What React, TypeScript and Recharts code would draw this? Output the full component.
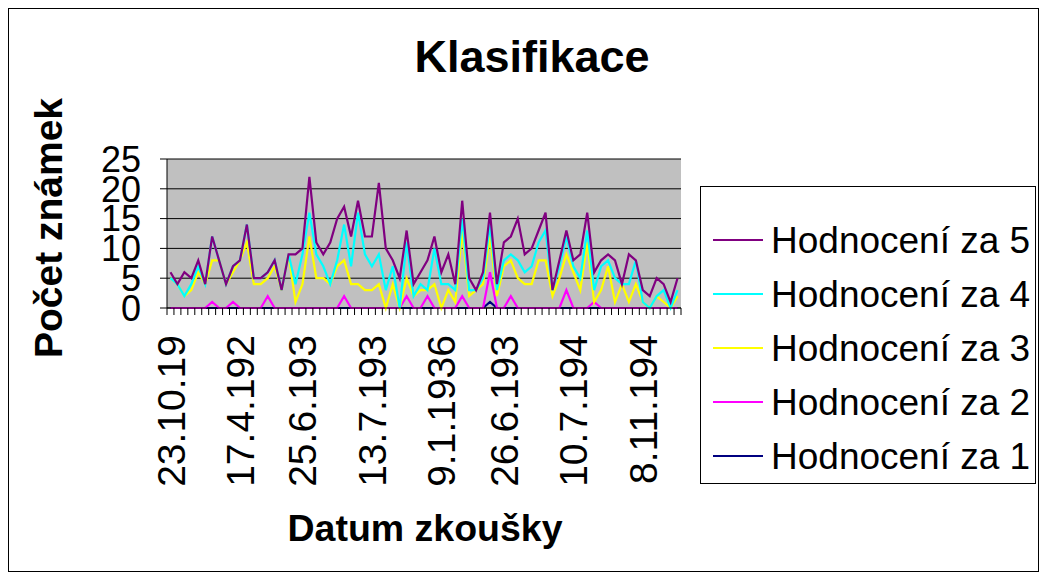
import React from 'react';
import { LineChart, Line, XAxis, YAxis, CartesianGrid, Legend } from 'recharts';

// ---- data (values as plotted) ----
const GRADE_5 = [6,4,6,5,8,4,12,8,4,7,8,14,5,5,6,8,3,9,9,10,22,11,9,11,15,17,12,18,12,12,21,10,8,5,13,4,6,8,12,6,9,4,18,5,3,6,16,4,11,12,15,9,10,13,16,3,8,13,8,9,16,6,8,9,8,4,9,8,3,2,5,4,1,5];
const GRADE_4 = [5,4,2,4,7,4,12,8,4,7,8,14,5,5,6,8,3,9,4,9,16,9,7,4,8,14,7,16,9,7,9,3,7,0,11,2,4,3,10,4,4,3,15,3,3,5,14,3,8,9,8,6,7,11,13,3,7,12,7,5,13,3,7,8,5,4,4,8,1,0,2,3,0,3];
const GRADE_3 = [5,4,2,3,6,4,8,8,4,6,8,11,4,4,5,7,3,9,1,4,12,5,5,4,7,8,4,4,3,3,4,0,4,0,5,2,3,3,4,0,3,1,13,2,3,4,12,2,7,8,5,4,4,8,8,2,5,9,6,3,11,1,3,7,1,4,1,4,1,0,2,1,0,2];
const GRADE_2 = [0,0,0,0,0,0,1,0,0,1,0,0,0,0,2,0,0,0,0,0,0,0,0,0,0,2,0,0,0,0,0,0,0,0,2,0,0,2,0,0,0,0,2,0,0,0,6,0,0,2,0,0,0,0,0,0,0,3,0,0,0,1,0,0,0,0,0,0,0,0,0,0,0,0];
const GRADE_1 = [0,0,0,0,0,0,0,0,0,0,0,0,0,0,0,0,0,0,0,0,0,0,0,0,0,0,0,0,0,0,0,0,0,0,0,0,0,0,0,0,0,0,0,0,0,0,1,0,0,0,0,0,0,0,0,0,0,0,0,0,0,0,0,0,0,0,0,0,0,0,0,0,0,0];

const TICK_INDEXES = [0, 10, 19, 29, 39, 48, 58, 68];
const TICK_LABELS = ['23.10.19', '17.4.192', '25.6.193', '13.7.193', '9.1.1936', '26.6.193', '10.7.194', '8.11.194'];
const Y_TICKS = [0, 5, 10, 15, 20, 25];

const SERIES = [
  { key: 'z1', name: 'Hodnocení za 1', color: '#000080', values: GRADE_1 },
  { key: 'z2', name: 'Hodnocení za 2', color: '#FF00FF', values: GRADE_2 },
  { key: 'z3', name: 'Hodnocení za 3', color: '#FFFF00', values: GRADE_3 },
  { key: 'z4', name: 'Hodnocení za 4', color: '#00FFFF', values: GRADE_4 },
  { key: 'z5', name: 'Hodnocení za 5', color: '#800080', values: GRADE_5 },
];

const rows = GRADE_5.map((_, i) => {
  const r: any = { i };
  SERIES.forEach((s) => { r[s.key] = s.values[i]; });
  return r;
});

// ---- layout ----
const W = 1046;
const H = 578;
const PLOT_LEFT = 167;
const PLOT_RIGHT = 681;
const PLOT_TOP = 159;
const PLOT_BOTTOM = 308;
const CAT_W = (PLOT_RIGHT - PLOT_LEFT) / GRADE_5.length;
const FONT = '"Liberation Sans", Arial, Helvetica, sans-serif';

const XTick = (props: any) => {
  const { x, y, payload, index } = props;
  const half = CAT_W / 2;
  const k = TICK_INDEXES.indexOf(payload.value);
  const last = index === GRADE_5.length - 1;
  return (
    <g>
      <line x1={x - half} y1={y} x2={x - half} y2={y + 7} stroke="#000" strokeWidth={1} />
      {last && <line x1={x + half} y1={y} x2={x + half} y2={y + 7} stroke="#000" strokeWidth={1} />}
      {k >= 0 && (
        <text
          x={x}
          y={y + 27}
          dy="0.36em"
          transform={`rotate(-90 ${x} ${y + 27})`}
          textAnchor="end"
          fontSize={39}
          fontFamily={FONT}
          fill="#000"
        >
          {TICK_LABELS[k]}
        </text>
      )}
    </g>
  );
};

const LegendBox = (props: any) => {
  const items = [...(props.payload || [])].reverse();
  return (
    <div
      style={{
        width: '100%',
        height: '100%',
        boxSizing: 'border-box',
        border: '1px solid #000',
        background: '#fff',
        paddingTop: 26,
      }}
    >
      {items.map((it: any) => (
        <div key={it.value} style={{ height: 54, display: 'flex', alignItems: 'center' }}>
          <svg width={70} height={10} style={{ flex: 'none' }}>
            <line x1={12} y1={5} x2={62} y2={5} stroke={it.color} strokeWidth={2} />
          </svg>
          <span style={{ fontFamily: FONT, fontSize: 37, color: '#000', whiteSpace: 'nowrap', lineHeight: 1 }}>
            {it.value}
          </span>
        </div>
      ))}
    </div>
  );
};

export default function App() {
  return (
    <div style={{ position: 'absolute', left: 0, top: 0, width: W, height: H, background: '#fff' }}>
      <div
        style={{
          position: 'absolute',
          left: 8,
          top: 8,
          width: 1031,
          height: 564,
          border: '1px solid #000',
          boxSizing: 'border-box',
        }}
      />
      <div style={{ position: 'absolute', left: 0, top: 0 }}>
        <LineChart
          width={W}
          height={H}
          data={rows}
          margin={{ top: PLOT_TOP, right: W - PLOT_RIGHT, bottom: H - PLOT_BOTTOM - 200, left: PLOT_LEFT - 100 }}
        >
          <CartesianGrid vertical={false} stroke="#000" strokeWidth={1} fill="#C0C0C0" fillOpacity={1} />
          <XAxis
            dataKey="i"
            type="category"
            height={200}
            interval={0}
            tickSize={0}
            tickMargin={0}
            tickLine={false}
            axisLine={{ stroke: '#000', strokeWidth: 1 }}
            padding={{ left: CAT_W / 2, right: CAT_W / 2 }}
            tick={<XTick />}
          />
          <XAxis
            xAxisId="top"
            orientation="top"
            dataKey="i"
            height={0}
            tick={false}
            tickLine={false}
            axisLine={{ stroke: '#808080', strokeWidth: 2 }}
          />
          <YAxis
            width={100}
            domain={[0, 25]}
            ticks={Y_TICKS}
            interval={0}
            tickSize={7}
            tickMargin={19}
            tickLine={{ stroke: '#000' }}
            axisLine={{ stroke: '#000', strokeWidth: 1 }}
            tick={{ fontSize: 36, fill: '#000', fontFamily: FONT }}
          />
          <YAxis
            yAxisId="right"
            orientation="right"
            width={0}
            domain={[0, 25]}
            tick={false}
            tickLine={false}
            axisLine={{ stroke: '#808080', strokeWidth: 2 }}
          />
          <Legend
            layout="vertical"
            align="center"
            verticalAlign="middle"
            content={<LegendBox />}
            wrapperStyle={{ position: 'absolute', left: 700, top: 186, width: 336, height: 298 }}
          />
          {SERIES.map((s) => (
            <Line
              key={s.key}
              dataKey={s.key}
              name={s.name}
              stroke={s.color}
              strokeWidth={2.2}
              dot={false}
              activeDot={false}
              type="linear"
              isAnimationActive={false}
            />
          ))}
        </LineChart>
      </div>
      <svg width={W} height={H} style={{ position: 'absolute', left: 0, top: 0, pointerEvents: 'none' }}>
        <text x={532} y={72} textAnchor="middle" fontFamily={FONT} fontWeight="bold" fontSize={45} fill="#000">
          Klasifikace
        </text>
        <text
          x={62}
          y={228}
          transform="rotate(-90 62 228)"
          textAnchor="middle"
          fontFamily={FONT}
          fontWeight="bold"
          fontSize={39}
          fill="#000"
        >
          Počet známek
        </text>
        <text x={425} y={541} textAnchor="middle" fontFamily={FONT} fontWeight="bold" fontSize={37.5} fill="#000">
          Datum zkoušky
        </text>
      </svg>
    </div>
  );
}
